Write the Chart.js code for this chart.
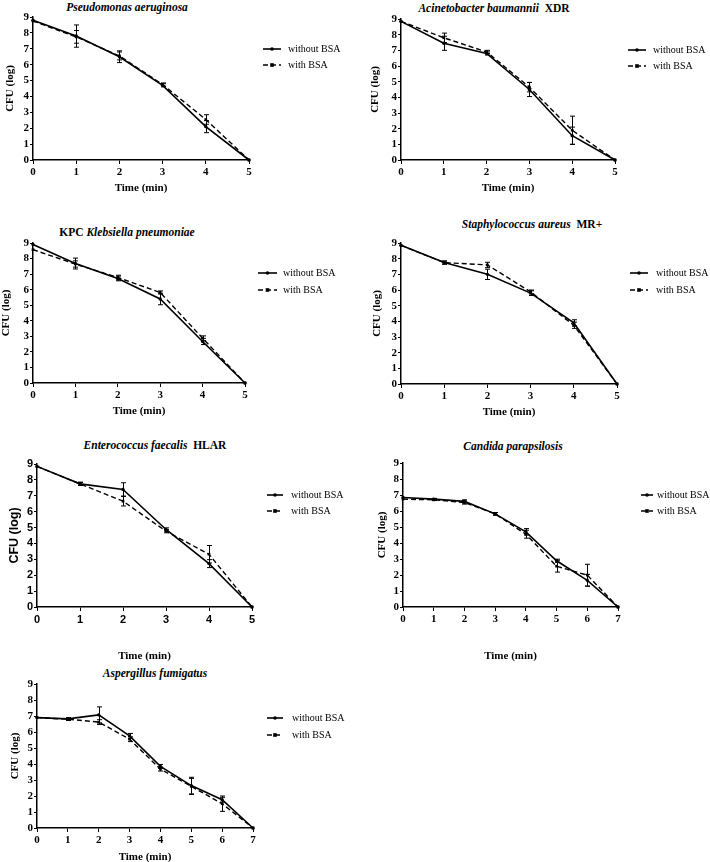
<!DOCTYPE html>
<html>
<head>
<meta charset="utf-8">
<script src="https://cdn.jsdelivr.net/npm/chart.js@4.4.1/dist/chart.umd.min.js"></script>
<style>
    body { margin: 0; background: #fff; }
    #page { position: relative; width: 710px; height: 862px; overflow: hidden; background: #fff; }
    .panel { position: absolute; }
    .ttl {
        position: absolute;
        transform: translate(-50%, -50%);
        white-space: nowrap;
        font: bold 11.5px "Liberation Serif", "Times New Roman", serif;
        color: #000;
    }
    .ttl i { font-style: italic; }
</style>
</head>
<body>
<div id="page">
    <div class="ttl" style="left:127px;top:7px"><i>Pseudomonas aeruginosa</i></div>
    <div class="ttl" style="left:494px;top:8px"><i>Acinetobacter baumannii</i>&nbsp; XDR</div>
    <div class="ttl" style="left:127px;top:232px">KPC <i>Klebsiella pneumoniae</i></div>
    <div class="ttl" style="left:532px;top:224px"><i>Staphylococcus aureus</i>&nbsp; MR+</div>
    <div class="ttl" style="left:155px;top:445px"><i>Enterococcus faecalis</i>&nbsp; HLAR</div>
    <div class="ttl" style="left:513px;top:446px"><i>Candida parapsilosis</i></div>
    <div class="ttl" style="left:155px;top:673px"><i>Aspergillus fumigatus</i></div>

    <canvas id="c1" class="panel"></canvas>
    <canvas id="c2" class="panel"></canvas>
    <canvas id="c3" class="panel"></canvas>
    <canvas id="c4" class="panel"></canvas>
    <canvas id="c5" class="panel"></canvas>
    <canvas id="c6" class="panel"></canvas>
    <canvas id="c7" class="panel"></canvas>
</div>

<script>
// ---- data ----
const time5 = [0, 1, 2, 3, 4, 5];
const time7 = [0, 1, 2, 3, 4, 5, 6, 7];
const cfuTicks = [0, 1, 2, 3, 4, 5, 6, 7, 8, 9];
const seriesNames = ['without BSA', 'with BSA'];

const pseudoWithout = [8.8, 7.8, 6.5, 4.7, 2.1, 0];
const pseudoWithoutErr = [0, 0.7, 0.37, 0.1, 0.38, 0];
const pseudoWith = [8.75, 7.75, 6.55, 4.75, 2.55, 0];
const pseudoWithErr = [0, 0.4, 0.25, 0.1, 0.3, 0];

const acinetoWithout = [8.85, 7.45, 6.8, 4.5, 1.55, 0];
const acinetoWithoutErr = [0, 0.45, 0.1, 0.45, 0.55, 0];
const acinetoWith = [8.85, 7.8, 6.9, 4.65, 1.9, 0];
const acinetoWithErr = [0, 0.3, 0.1, 0.3, 0.9, 0];

const kpcWithout = [8.9, 7.68, 6.72, 5.4, 2.67, 0];
const kpcWithoutErr = [0, 0.35, 0.15, 0.37, 0.2, 0];
const kpcWith = [8.57, 7.65, 6.78, 5.82, 2.88, 0];
const kpcWithErr = [0, 0.2, 0.15, 0.1, 0.15, 0];

const staphWithout = [8.85, 7.75, 7.0, 5.8, 3.9, 0];
const staphWithoutErr = [0, 0.1, 0.33, 0.15, 0.2, 0];
const staphWith = [8.85, 7.75, 7.6, 5.88, 3.75, 0];
const staphWithErr = [0, 0.1, 0.17, 0.12, 0.2, 0];

const enteroWithout = [8.85, 7.75, 7.4, 4.88, 2.73, 0];
const enteroWithoutErr = [0, 0.1, 0.42, 0.1, 0.25, 0];
const enteroWith = [8.85, 7.75, 6.66, 4.77, 3.32, 0];
const enteroWithErr = [0, 0.1, 0.3, 0.1, 0.55, 0];

const candidaWithout = [6.84, 6.74, 6.6, 5.82, 4.7, 2.89, 1.67, 0];
const candidaWithoutErr = [0, 0.05, 0.1, 0.08, 0.2, 0.1, 0.37, 0];
const candidaWith = [6.74, 6.7, 6.53, 5.82, 4.55, 2.55, 1.99, 0];
const candidaWithErr = [0, 0.05, 0.1, 0.08, 0.25, 0.37, 0.68, 0];

const aspergWithout = [6.9, 6.82, 7.07, 5.76, 3.85, 2.65, 1.77, 0];
const aspergWithoutErr = [0, 0.08, 0.5, 0.15, 0.12, 0.52, 0.15, 0];
const aspergWith = [6.9, 6.8, 6.62, 5.55, 3.68, 2.6, 1.52, 0];
const aspergWithErr = [0, 0.08, 0.15, 0.15, 0.12, 0.5, 0.48, 0];

// ---- helpers ----
const SERIF = '"Liberation Serif", "Times New Roman", serif';
const SANS = '"Liberation Sans", Arial, sans-serif';

const errorBars = {
    id: 'errorBars',
    afterDatasetsDraw(chart) {
        const { ctx, scales: { x, y } } = chart;
        ctx.save();
        ctx.strokeStyle = '#000';
        ctx.lineWidth = 1;
        chart.data.datasets.forEach(ds => {
            (ds.errors || []).forEach((e, i) => {
                if (!e) return;
                const p = ds.data[i];
                const px = Math.round(x.getPixelForValue(p.x)) + 0.5;
                const top = y.getPixelForValue(p.y + e);
                const bot = y.getPixelForValue(Math.max(p.y - e, 0));
                ctx.beginPath();
                ctx.moveTo(px, top);
                ctx.lineTo(px, bot);
                ctx.moveTo(px - 2.5, top);
                ctx.lineTo(px + 2.5, top);
                ctx.moveTo(px - 2.5, bot);
                ctx.lineTo(px + 2.5, bot);
                ctx.stroke();
            });
        });
        ctx.restore();
    }
};

const sideLegend = {
    id: 'sideLegend',
    afterDraw(chart, args, opts) {
        const { ctx, chartArea } = chart;
        ctx.save();
        chart.data.datasets.forEach((ds, i) => {
            const y = chartArea.top + opts.y0 + i * opts.dy;
            const x0 = chartArea.right + opts.x0;
            const x1 = chartArea.right + opts.x1;
            ctx.strokeStyle = '#000';
            ctx.lineWidth = ds.borderWidth;
            ctx.setLineDash(ds.borderDash || []);
            ctx.beginPath();
            ctx.moveTo(x0, y);
            ctx.lineTo(x1, y);
            ctx.stroke();
            ctx.setLineDash([]);
            ctx.fillStyle = '#000';
            const mx = (x0 + x1) / 2;
            if (ds.pointStyle === 'rect') ctx.fillRect(mx - 1.8, y - 1.8, 3.6, 3.6);
            else { ctx.beginPath(); ctx.arc(mx, y, 1.8, 0, Math.PI * 2); ctx.fill(); }
            ctx.font = '10px ' + SERIF;
            ctx.textBaseline = 'middle';
            ctx.fillText(ds.label, chartArea.right + opts.tx, y + 0.5);
        });
        ctx.restore();
    }
};

function points(xs, ys) {
    return xs.map((v, i) => ({ x: v, y: ys[i] }));
}

// box: canvas left/top/width/height; area: plot left/right/top/bottom (page px)
function createPanel(id, p) {
    const cv = document.getElementById(id);
    cv.style.left = p.box[0] + 'px';
    cv.style.top = p.box[1] + 'px';
    cv.width = p.box[2];
    cv.height = p.box[3];
    cv.style.width = p.box[2] + 'px';
    cv.style.height = p.box[3] + 'px';

    const [L, R, T, B] = p.area;
    const yAxisW = L - p.box[0];
    const xAxisH = p.box[1] + p.box[3] - B;
    const tickFont = p.tickFont || { family: SERIF, size: 11, weight: 'bold' };
    const yTitleFont = p.yTitleFont || { family: SERIF, size: 11, weight: 'bold', lineHeight: 1 };
    const xTitleFont = { family: SERIF, size: 11, weight: 'bold', lineHeight: 1 };
    const xMax = p.time[p.time.length - 1];

    return new Chart(cv, {
        type: 'line',
        data: {
            datasets: [
                {
                    label: seriesNames[0],
                    data: points(p.time, p.without),
                    errors: p.withoutErr,
                    borderColor: '#000',
                    backgroundColor: '#000',
                    borderWidth: 1.6,
                    pointStyle: 'circle',
                    pointRadius: 1.7,
                    pointBorderWidth: 0,
                    tension: 0,
                    clip: false
                },
                {
                    label: seriesNames[1],
                    data: points(p.time, p.with),
                    errors: p.withErr,
                    borderColor: '#000',
                    backgroundColor: '#000',
                    borderWidth: 1.4,
                    borderDash: [5, 3],
                    pointStyle: 'rect',
                    pointRadius: 1.9,
                    pointBorderWidth: 0,
                    tension: 0,
                    clip: false
                }
            ]
        },
        options: {
            responsive: false,
            animation: false,
            devicePixelRatio: 1,
            layout: {
                padding: { left: 0, top: T - p.box[1], right: p.box[0] + p.box[2] - R, bottom: 0 }
            },
            plugins: {
                legend: { display: false },
                tooltip: { enabled: false },
                sideLegend: p.legend
            },
            scales: {
                x: {
                    type: 'linear',
                    min: 0,
                    max: xMax,
                    afterBuildTicks: s => { s.ticks = p.time.map(v => ({ value: v })); },
                    afterFit: s => { s.height = xAxisH; },
                    grid: { display: true, drawOnChartArea: false, drawTicks: true, tickLength: 4, tickColor: '#000', tickWidth: 1 },
                    border: { display: true, color: '#000', width: 1.5 },
                    ticks: { color: '#000', font: tickFont, padding: 2, maxRotation: 0, autoSkip: false },
                    title: {
                        display: true,
                        text: 'Time (min)',
                        color: '#000',
                        font: xTitleFont,
                        padding: { top: 0, bottom: p.box[1] + p.box[3] - p.xTitleY - xTitleFont.size / 2 }
                    }
                },
                y: {
                    min: 0,
                    max: 9,
                    afterBuildTicks: s => { s.ticks = cfuTicks.map(v => ({ value: v })); },
                    afterFit: s => { s.width = yAxisW; },
                    grid: { display: true, drawOnChartArea: false, drawTicks: true, tickLength: 3, tickColor: '#000', tickWidth: 1 },
                    border: { display: true, color: '#000', width: 1.5 },
                    ticks: { color: '#000', font: tickFont, padding: 1, autoSkip: false },
                    title: {
                        display: true,
                        text: 'CFU (log)',
                        color: '#000',
                        font: yTitleFont,
                        padding: { top: p.yTitleX - p.box[0] - yTitleFont.size / 2, bottom: 0 }
                    }
                }
            }
        },
        plugins: [errorBars, sideLegend]
    });
}

createPanel('c1', {
    box: [0, 0, 355, 200], area: [33, 249, 17, 160],
    time: time5, without: pseudoWithout, withoutErr: pseudoWithoutErr, with: pseudoWith, withErr: pseudoWithErr,
    xTitleY: 188, yTitleX: 10,
    legend: { x0: 14, x1: 32, tx: 39, y0: 32, dy: 16 }
});
createPanel('c2', {
    box: [360, 0, 350, 200], area: [401, 615, 19, 160],
    time: time5, without: acinetoWithout, withoutErr: acinetoWithoutErr, with: acinetoWith, withErr: acinetoWithErr,
    xTitleY: 188, yTitleX: 375,
    legend: { x0: 13, x1: 31, tx: 38, y0: 31, dy: 16 }
});
createPanel('c3', {
    box: [0, 220, 355, 200], area: [33, 245, 243, 383],
    time: time5, without: kpcWithout, withoutErr: kpcWithoutErr, with: kpcWith, withErr: kpcWithErr,
    xTitleY: 411, yTitleX: 6,
    legend: { x0: 13, x1: 32, tx: 38, y0: 30, dy: 17 }
});
createPanel('c4', {
    box: [360, 220, 350, 200], area: [401, 617, 243, 384],
    time: time5, without: staphWithout, withoutErr: staphWithoutErr, with: staphWith, withErr: staphWithErr,
    xTitleY: 412, yTitleX: 377,
    legend: { x0: 13, x1: 31, tx: 39, y0: 30, dy: 17 }
});
createPanel('c5', {
    box: [0, 440, 355, 225], area: [37, 252, 464, 607],
    time: time5, without: enteroWithout, withoutErr: enteroWithoutErr, with: enteroWith, withErr: enteroWithErr,
    xTitleY: 656, yTitleX: 15,
    tickFont: { family: SANS, size: 11, weight: 'bold' },
    yTitleFont: { family: SANS, size: 12.5, weight: 'bold', lineHeight: 1 },
    legend: { x0: 15, x1: 31, tx: 39, y0: 31, dy: 16 }
});
createPanel('c6', {
    box: [360, 440, 350, 225], area: [403, 618, 463, 607],
    time: time7, without: candidaWithout, withoutErr: candidaWithoutErr, with: candidaWith, withErr: candidaWithErr,
    xTitleY: 656, yTitleX: 382,
    legend: { x0: 23, x1: 35, tx: 39, y0: 32, dy: 16 }
});
createPanel('c7', {
    box: [0, 660, 355, 202], area: [37, 253, 684, 828],
    time: time7, without: aspergWithout, withoutErr: aspergWithoutErr, with: aspergWith, withErr: aspergWithErr,
    xTitleY: 857, yTitleX: 15,
    legend: { x0: 14, x1: 30, tx: 39, y0: 34, dy: 17 }
});
</script>
</body>
</html>
